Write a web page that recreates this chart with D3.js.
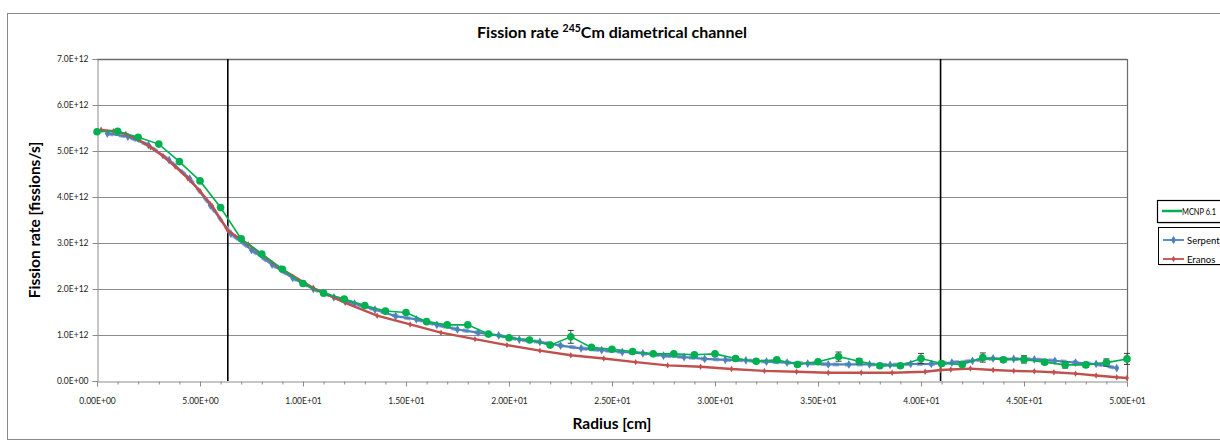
<!DOCTYPE html>
<html>
<head>
<meta charset="utf-8">
<script src="https://cdn.jsdelivr.net/npm/d3@7"></script>
<style>
  html, body { margin: 0; padding: 0; background: #fff; }
  svg { display: block; }
  text { font-family: Lato, "Open Sans", "Liberation Sans", sans-serif; }
</style>
</head>
<body>
<svg id="chart" width="1220" height="443"></svg>
<script>
// ---------------- data ----------------
const mcnpX = d3.range(0, 51, 1);
const mcnpY = [5.42, 5.43, 5.30, 5.15, 4.77, 4.35, 3.77, 3.09, 2.76, 2.43,
               2.12, 1.91, 1.78, 1.64, 1.52, 1.49, 1.29, 1.22, 1.22, 1.02,
               0.94, 0.89, 0.78, 0.96, 0.73, 0.69, 0.64, 0.59, 0.59, 0.57,
               0.59, 0.49, 0.43, 0.46, 0.36, 0.42, 0.53, 0.43, 0.33, 0.33,
               0.49, 0.38, 0.36, 0.51, 0.46, 0.47, 0.41, 0.35, 0.35, 0.40,
               0.48];
const mcnpErr = [0.02, 0.02, 0.02, 0.02, 0.02, 0.02, 0.02, 0.02, 0.02, 0.02,
                 0.02, 0.02, 0.02, 0.02, 0.02, 0.02, 0.02, 0.02, 0.02, 0.02,
                 0.03, 0.03, 0.03, 0.14, 0.03, 0.03, 0.03, 0.03, 0.03, 0.03,
                 0.04, 0.04, 0.04, 0.04, 0.04, 0.04, 0.10, 0.06, 0.04, 0.04,
                 0.11, 0.05, 0.05, 0.10, 0.05, 0.08, 0.05, 0.07, 0.05, 0.08,
                 0.12];
const serpentX = d3.range(0.5, 50, 1);
const serpentY = [5.38, 5.31, 5.13, 4.80, 4.40, 3.82, 3.20, 2.85, 2.53, 2.24,
                  2.00, 1.82, 1.68, 1.55, 1.41, 1.34, 1.22, 1.12, 1.05, 0.99,
                  0.90, 0.85, 0.77, 0.71, 0.67, 0.63, 0.60, 0.55, 0.52, 0.48,
                  0.46, 0.45, 0.42, 0.40, 0.38, 0.36, 0.36, 0.36, 0.35, 0.37,
                  0.37, 0.40, 0.44, 0.49, 0.48, 0.47, 0.44, 0.40, 0.37, 0.28];
const eranosX = [0.2, 0.8, 1.4, 2.0, 2.6, 3.2, 3.8, 4.4, 5.0, 5.6, 6.35,
                 7.35, 8.9, 10.5, 12.05, 13.6, 15.2, 16.7, 18.35, 19.9, 21.5,
                 23.0, 24.6, 26.15, 27.7, 29.3, 30.8, 32.4, 33.96, 35.5, 37.1,
                 38.6, 40.2, 40.95, 41.45, 42.4, 43.5, 44.5, 45.5, 46.45, 47.5,
                 48.5, 49.5, 50.0];
const eranosY = [5.46, 5.43, 5.37, 5.25, 5.08, 4.89, 4.66, 4.41, 4.13, 3.80, 3.27,
                 2.97, 2.45, 2.02, 1.70, 1.42, 1.23, 1.05, 0.91, 0.78, 0.66,
                 0.56, 0.49, 0.41, 0.34, 0.31, 0.26, 0.22, 0.20, 0.18, 0.18,
                 0.18, 0.20, 0.24, 0.25, 0.27, 0.24, 0.22, 0.21, 0.19, 0.16,
                 0.12, 0.08, 0.065];
const boundaries = [6.35, 40.95];
const xTicks = [0, 5, 10, 15, 20, 25, 30, 35, 40, 45, 50];
const xTickLabels = ["0.00E+00", "5.00E+00", "1.00E+01", "1.50E+01", "2.00E+01", "2.50E+01",
                     "3.00E+01", "3.50E+01", "4.00E+01", "4.50E+01", "5.00E+01"];
const yTicks = [0, 1, 2, 3, 4, 5, 6, 7];
const yTickLabels = ["0.0E+00", "1.0E+12", "2.0E+12", "3.0E+12", "4.0E+12", "5.0E+12", "6.0E+12", "7.0E+12"];
const seriesNames = ["MCNP 6.1", "Serpent", "Eranos"];

// ---------------- layout ----------------
const svg = d3.select("#chart");
const L = 97, R = 1127, T = 59, B = 381;
const x = d3.scaleLinear().domain([0, 50]).range([L, R]);
const y = d3.scaleLinear().domain([0, 7]).range([B, T]);

const cGreen = "#00b050", cBlue = "#4f81bd", cRed = "#c0504d";

// outer chart border
svg.append("rect").attr("x", 7.5).attr("y", 13.5).attr("width", 1240).attr("height", 426)
  .attr("fill", "#fff").attr("stroke", "#8a8a8a").attr("stroke-width", 1);

// title
const title = svg.append("text").attr("x", 612).attr("y", 38).attr("text-anchor", "middle")
  .attr("font-size", 16).attr("font-weight", "bold").attr("fill", "#000");
title.append("tspan").text("Fission rate ");
title.append("tspan").attr("font-size", 10.5).attr("dy", -6).text("245");
title.append("tspan").attr("dy", 6).text("Cm diametrical channel");

// gridlines
svg.append("g").selectAll("line").data(yTicks.slice(1)).join("line")
  .attr("x1", L).attr("x2", R).attr("y1", d => Math.round(y(d)) + 0.5).attr("y2", d => Math.round(y(d)) + 0.5)
  .attr("stroke", d => d === 7 ? "#6b6b6b" : "#8c8c8c").attr("stroke-width", d => d === 7 ? 1.6 : 1);

// right border of plot
svg.append("line").attr("x1", R + 0.5).attr("x2", R + 0.5).attr("y1", T).attr("y2", B)
  .attr("stroke", "#6b6b6b").attr("stroke-width", 1.2);

// y axis
const yAxis = d3.axisLeft(y).tickValues(yTicks).tickSize(5).tickPadding(4)
  .tickFormat((d, i) => yTickLabels[i]);
const gy = svg.append("g").attr("transform", `translate(${L + 0.5},0)`).call(yAxis);
gy.select(".domain").attr("stroke", "#8c8c8c");
gy.selectAll(".tick line").attr("stroke", "#8c8c8c");
gy.selectAll(".tick text").attr("font-size", 8.5).attr("fill", "#222")
  .style("font-family", "Lato, 'Open Sans', sans-serif");

// x axis minor ticks
const xMinor = d3.axisBottom(x).tickValues(d3.range(0, 51, 1).filter(d => d % 5 !== 0)).tickSize(3).tickFormat("");
const gxm = svg.append("g").attr("transform", `translate(0,${B + 0.5})`).call(xMinor);
gxm.select(".domain").remove();
gxm.selectAll(".tick line").attr("stroke", "#8c8c8c");

// x axis major
const xAxis = d3.axisBottom(x).tickValues(xTicks).tickSize(5).tickPadding(11)
  .tickFormat((d, i) => xTickLabels[i]);
const gx = svg.append("g").attr("transform", `translate(0,${B + 0.5})`).call(xAxis);
gx.select(".domain").attr("stroke", "#8c8c8c");
gx.selectAll(".tick line").attr("stroke", "#8c8c8c");
gx.selectAll(".tick text").attr("font-size", 8.5).attr("fill", "#222")
  .style("font-family", "Lato, 'Open Sans', sans-serif");

// axis titles
svg.append("text").attr("x", 612).attr("y", 429).attr("text-anchor", "middle")
  .attr("font-size", 15.5).attr("font-weight", "bold").text("Radius [cm]");
svg.append("text").attr("transform", "translate(40,220) rotate(-90)").attr("text-anchor", "middle")
  .attr("font-size", 15.5).attr("font-weight", "bold").text("Fission rate [fissions/s]");

// boundary lines
svg.append("g").selectAll("line").data(boundaries).join("line")
  .attr("x1", d => x(d)).attr("x2", d => x(d)).attr("y1", T).attr("y2", B)
  .attr("stroke", "#000").attr("stroke-width", 1.6);

const line = d3.line().x(d => x(d[0])).y(d => y(d[1]));

// Serpent
const serp = serpentX.map((v, i) => [v, serpentY[i]]);
svg.append("path").datum(serp).attr("d", line).attr("fill", "none")
  .attr("stroke", "#95b3d7").attr("stroke-width", 4).attr("stroke-dasharray", "6 6");
svg.append("path").datum(serp).attr("d", line).attr("fill", "none")
  .attr("stroke", cBlue).attr("stroke-width", 2.2);
svg.append("g").selectAll("path").data(serp).join("path")
  .attr("transform", d => `translate(${x(d[0])},${y(d[1])})`)
  .attr("d", d3.symbol(d3.symbolDiamond, 22)).attr("fill", cBlue);

// Eranos
const era = eranosX.map((v, i) => [v, eranosY[i]]);
svg.append("path").datum(era).attr("d", line).attr("fill", "none")
  .attr("stroke", cRed).attr("stroke-width", 2.4);
svg.append("g").selectAll("path").data(era).join("path")
  .attr("transform", d => `translate(${x(d[0])},${y(d[1])})`)
  .attr("d", d3.symbol(d3.symbolDiamond, 12)).attr("fill", cRed);

// MCNP
const mc = mcnpX.map((v, i) => [v, mcnpY[i], mcnpErr[i]]);
const eb = svg.append("g").attr("stroke", "#404040").attr("stroke-width", 1);
eb.selectAll("line.v").data(mc).join("line").attr("class", "v")
  .attr("x1", d => x(d[0])).attr("x2", d => x(d[0]))
  .attr("y1", d => y(d[1] - d[2])).attr("y2", d => y(d[1] + d[2]));
eb.selectAll("line.t").data(mc).join("line").attr("class", "t")
  .attr("x1", d => x(d[0]) - 3).attr("x2", d => x(d[0]) + 3)
  .attr("y1", d => y(d[1] + d[2])).attr("y2", d => y(d[1] + d[2]));
eb.selectAll("line.b").data(mc).join("line").attr("class", "b")
  .attr("x1", d => x(d[0]) - 3).attr("x2", d => x(d[0]) + 3)
  .attr("y1", d => y(d[1] - d[2])).attr("y2", d => y(d[1] - d[2]));
svg.append("path").datum(mc).attr("d", line).attr("fill", "none")
  .attr("stroke", cGreen).attr("stroke-width", 1.6);
svg.append("g").selectAll("circle").data(mc).join("circle")
  .attr("cx", d => x(d[0])).attr("cy", d => y(d[1])).attr("r", 3.8).attr("fill", cGreen);

// legends (boxes run off the right edge like the reference)
const lg1 = svg.append("g");
lg1.append("rect").attr("x", 1158.5).attr("y", 201.5).attr("width", 80).attr("height", 22)
  .attr("fill", "#bfbfbf");
lg1.append("rect").attr("x", 1157.5).attr("y", 200.5).attr("width", 80).attr("height", 22)
  .attr("fill", "#fff").attr("stroke", "#000").attr("stroke-width", 1.2);
lg1.append("line").attr("x1", 1162).attr("x2", 1182).attr("y1", 211).attr("y2", 211)
  .attr("stroke", cGreen).attr("stroke-width", 2.5);
lg1.append("text").attr("x", 1182).attr("y", 214.5).attr("font-size", 9.5)
  .attr("textLength", 34).attr("lengthAdjust", "spacingAndGlyphs").text(seriesNames[0]);

const lg2 = svg.append("g");
lg2.append("rect").attr("x", 1159.5).attr("y", 228.5).attr("width", 80).attr("height", 37)
  .attr("fill", "#bfbfbf");
lg2.append("rect").attr("x", 1158.5).attr("y", 227.5).attr("width", 80).attr("height", 37)
  .attr("fill", "#fff").attr("stroke", "#000").attr("stroke-width", 1);
const lgItems = [[seriesNames[1], cBlue, 240, 22], [seriesNames[2], cRed, 259, 12]];
lgItems.forEach(([name, col, yy, sz]) => {
  lg2.append("line").attr("x1", 1163).attr("x2", 1184).attr("y1", yy).attr("y2", yy)
    .attr("stroke", col).attr("stroke-width", 1.8);
  lg2.append("path").attr("transform", `translate(1173.5,${yy})`)
    .attr("d", d3.symbol(d3.symbolDiamond, sz)).attr("fill", col);
  lg2.append("text").attr("x", 1187).attr("y", yy + 3.5).attr("font-size", 9.5).text(name);
});
</script>
</body>
</html>
